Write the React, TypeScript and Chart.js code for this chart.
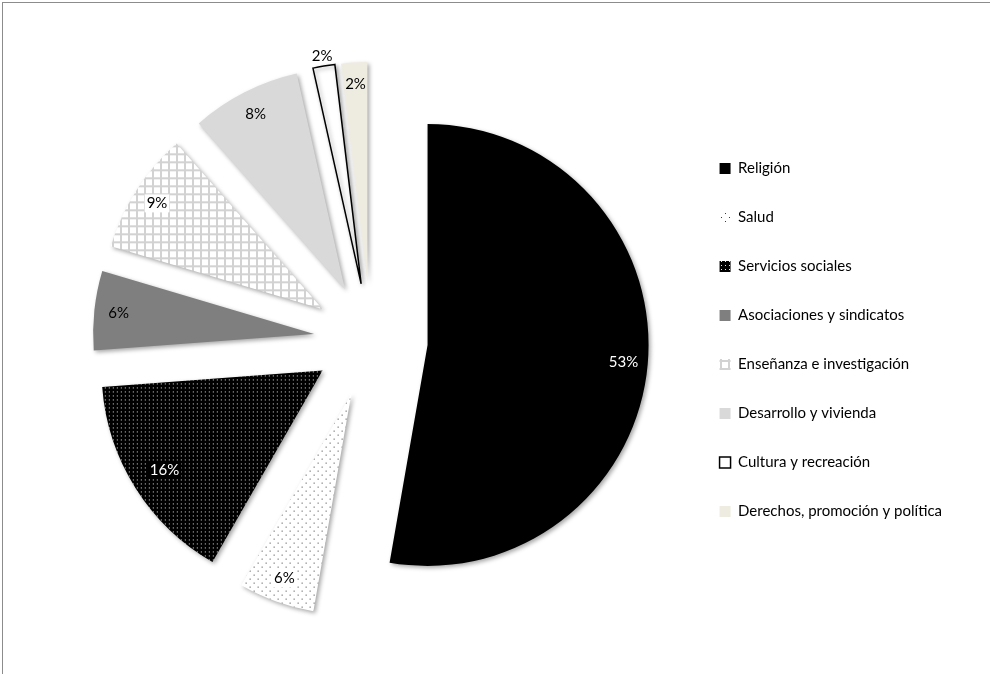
import React, { useEffect, useRef } from 'react';
import { Chart, registerables } from 'chart.js';

Chart.register(...registerables);

// ---- data ----
const categories = [
  'Religión',
  'Salud',
  'Servicios sociales',
  'Asociaciones y sindicatos',
  'Enseñanza e investigación',
  'Desarrollo y vivienda',
  'Cultura y recreación',
  'Derechos, promoción y política',
];
const shares = [52.75, 5.55, 15.5, 5.8, 8.9, 8.0, 1.6, 1.9];

// ---- styles ----
const FONT = 'Lato, "Open Sans", sans-serif';
const EXPLODE = 57;
const RADIUS = 221;
const LABEL_RADIUS = [0.89, 0.89, 0.845, 0.89, 0.89, 0.89, 1.045, 0.9];
const LABEL_COLOR = ['#ffffff', '#000000', '#ffffff', '#000000', '#000000', '#000000', '#000000', '#000000'];
const LABEL_BG = [null, '#ffffff', '#000000', null, '#ffffff', null, null, null];

function makePattern(size: number, draw: (c: CanvasRenderingContext2D) => void): CanvasPattern | string {
  const cv = document.createElement('canvas');
  cv.width = size;
  cv.height = size;
  const c = cv.getContext('2d');
  if (!c) return '#ffffff';
  draw(c);
  const ctx = document.createElement('canvas').getContext('2d');
  const p = ctx ? ctx.createPattern(cv, 'repeat') : null;
  return p || '#ffffff';
}

function buildFills() {
  const salud = makePattern(8, (c) => {
    c.fillStyle = '#ffffff';
    c.fillRect(0, 0, 8, 8);
    c.fillStyle = '#3a3a3a';
    c.fillRect(1, 1, 1, 1);
    c.fillRect(5, 5, 1, 1);
  });
  const servicios = makePattern(4, (c) => {
    c.fillStyle = '#000000';
    c.fillRect(0, 0, 4, 4);
    c.fillStyle = '#e8e8e8';
    c.fillRect(1, 1, 1, 1);
  });
  const ensenanza = makePattern(8, (c) => {
    c.fillStyle = '#ffffff';
    c.fillRect(0, 0, 8, 8);
    c.fillStyle = '#d2d2d2';
    c.fillRect(0, 0, 8, 2);
    c.fillRect(0, 0, 2, 8);
  });
  return ['#000000', salud, servicios, '#7f7f7f', ensenanza, '#d9d9d9', '#ffffff', '#eeece1'];
}

const explodePlugin = {
  id: 'explodeSlices',
  beforeDatasetDraw(chart: any, args: any) {
    const ctx = chart.ctx;
    args.meta.data.forEach((arc: any) => {
      const p = arc.getProps(['startAngle', 'endAngle'], true);
      const mid = (p.startAngle + p.endAngle) / 2;
      ctx.save();
      ctx.translate(Math.cos(mid) * EXPLODE, Math.sin(mid) * EXPLODE);
      ctx.shadowColor = 'rgba(0,0,0,0.35)';
      ctx.shadowBlur = 4;
      ctx.shadowOffsetX = 2;
      ctx.shadowOffsetY = 2;
      arc.draw(ctx);
      ctx.restore();
    });
    return false;
  },
};

const labelPlugin = {
  id: 'sliceLabels',
  afterDatasetsDraw(chart: any) {
    const meta = chart.getDatasetMeta(0);
    const ctx = chart.ctx;
    const data = chart.data.datasets[0].data as number[];
    const total = data.reduce((a, b) => a + b, 0);
    ctx.save();
    ctx.font = `15px ${FONT}`;
    ctx.textAlign = 'center';
    ctx.textBaseline = 'middle';
    meta.data.forEach((arc: any, i: number) => {
      const p = arc.getProps(['x', 'y', 'startAngle', 'endAngle', 'outerRadius'], true);
      const mid = (p.startAngle + p.endAngle) / 2;
      const r = EXPLODE + p.outerRadius * LABEL_RADIUS[i];
      const px = p.x + Math.cos(mid) * r;
      const py = p.y + Math.sin(mid) * r;
      const text = Math.round((data[i] / total) * 100) + '%';
      const bg = LABEL_BG[i];
      if (bg) {
        const w = ctx.measureText(text).width;
        ctx.fillStyle = bg;
        ctx.fillRect(px - w / 2 - 2, py - 9, w + 4, 18);
      }
      ctx.fillStyle = LABEL_COLOR[i];
      ctx.fillText(text, px, py);
    });
    ctx.restore();
  },
};

export default function App() {
  const canvasRef = useRef<HTMLCanvasElement | null>(null);

  useEffect(() => {
    const canvas = canvasRef.current;
    if (!canvas) return;
    const fills = buildFills();
    const chart = new Chart(canvas, {
      type: 'pie',
      data: {
        labels: categories,
        datasets: [
          {
            data: shares,
            backgroundColor: fills as any,
            borderColor: '#000000',
            borderWidth: [0, 0, 0, 0, 0, 0, 1.5, 0],
            borderJoinStyle: 'miter',
            offset: 0,
          } as any,
        ],
      },
      options: {
        animation: false,
        responsive: false,
        devicePixelRatio: 1,
        radius: RADIUS,
        rotation: 0,
        layout: { padding: { left: 56, right: 38, top: 6, bottom: 0 } },
        plugins: {
          legend: {
            position: 'right',
            labels: {
              boxWidth: 11,
              boxHeight: 11,
              padding: 34,
              color: '#000000',
              font: { family: FONT, size: 15 },
            },
          },
          tooltip: { enabled: false },
        },
      } as any,
      plugins: [explodePlugin, labelPlugin],
    });
    return () => chart.destroy();
  }, []);

  return (
    <div
      style={{
        position: 'fixed',
        left: 0,
        top: 0,
        width: 990,
        height: 674,
        overflow: 'hidden',
        background: '#ffffff',
      }}
    >
      <div
        style={{
          position: 'absolute',
          left: 2,
          top: 2,
          width: 1200,
          height: 900,
          borderTop: '1px solid #8c8c8c',
          borderLeft: '1px solid #8c8c8c',
        }}
      />
      <canvas
        ref={canvasRef}
        width={990}
        height={674}
        style={{ position: 'absolute', left: 0, top: 0, width: 990, height: 674 }}
      />
    </div>
  );
}
